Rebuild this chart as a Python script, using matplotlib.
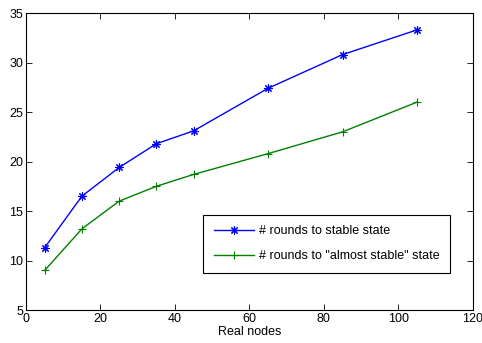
import numpy as np
import matplotlib as mpl
import matplotlib.pyplot as plt

mpl.rcParams['font.family'] = ['Liberation Sans', 'DejaVu Sans']
mpl.rcParams['font.size'] = 9

nodes = [5, 15, 25, 35, 45, 65, 85, 105]
stable = [11.3, 16.5, 19.4, 21.8, 23.1, 27.4, 30.8, 33.3]
almost_stable = [9.0, 13.2, 16.0, 17.5, 18.7, 20.8, 23.0, 26.0]

fig = plt.figure(figsize=(4.82, 3.43), dpi=100)
ax = fig.add_axes([0.054, 0.096, 0.927, 0.866])

ax.plot(nodes, stable, color='#0000ff', lw=1, marker=(8, 2, 0), ms=6, mew=0.8,
        label='# rounds to stable state')
ax.plot(nodes, almost_stable, color='#008000', lw=1, marker='+', ms=6, mew=0.8,
        label='# rounds to "almost stable" state')

ax.set_xlim(0, 120)
ax.set_ylim(5, 35)
ax.set_xticks(range(0, 121, 20))
ax.set_yticks(range(5, 36, 5))
ax.tick_params(direction='in', top=True, right=True, length=4, width=0.6, pad=2)
for s in ax.spines.values():
    s.set_linewidth(0.8)
ax.set_xlabel('Real nodes', labelpad=1)

leg = ax.legend(loc='lower left', bbox_to_anchor=(0.396, 0.125, 0.553, 0.188),
                mode='expand', fancybox=False, framealpha=1, edgecolor='black',
                borderaxespad=0, handlelength=3.2, handletextpad=0.4,
                borderpad=0.85, labelspacing=1.05)
leg.get_frame().set_linewidth(0.8)

fig.savefig('out.png', dpi=100)
